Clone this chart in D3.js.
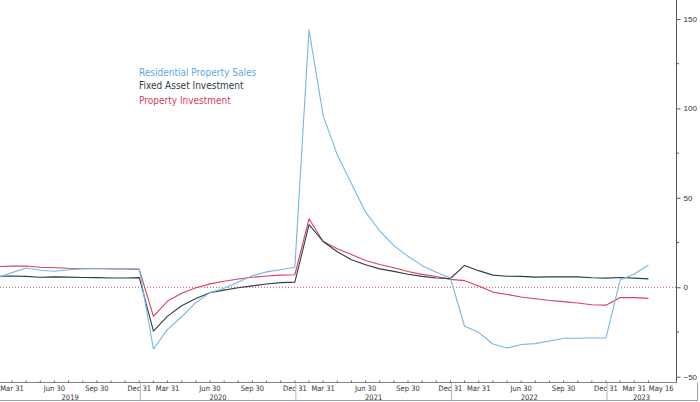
<!DOCTYPE html>
<html>
<head>
<meta charset="utf-8">
<script src="https://cdn.jsdelivr.net/npm/d3@7"></script>
<style>
html,body{margin:0;padding:0;background:#fff;}
svg{display:block;font-family:"DejaVu Sans Condensed","DejaVu Sans","Liberation Sans",sans-serif;}
</style>
</head>
<body>
<svg id="chart" width="700" height="402"></svg>
<script>
// Observations: YTD YoY %, Jan-Feb combined (no January point), Feb 2019 .. Apr 2023
const years = [2019, 2020, 2021, 2022, 2023];
const monthsPerYear = ["Feb","Mar","Apr","May","Jun","Jul","Aug","Sep","Oct","Nov","Dec"];

const residentialSales = [
  5.5, 8.2, 10.8, 9.5, 9.0, 9.8, 10.3, 10.4, 10.5, 10.5, 10.3,
  -34.5, -23.5, -16.5, -8.5, -3.0, -0.6, 3.0, 6.4, 8.6, 9.8, 11.2,
  144.0, 96.0, 74.0, 58.0, 42.0, 31.6, 23.3, 17.3, 12.1, 8.4, 5.2,
  -21.8, -25.2, -31.7, -34.0, -32.0, -31.5, -30.0, -28.5, -28.5, -28.4, -28.3,
  4.1, 7.4, 12.5
];
const fixedAssetInvestment = [
  6.1, 6.3, 6.1, 5.6, 5.8, 5.7, 5.5, 5.4, 5.2, 5.2, 5.4,
  -24.5, -16.1, -10.3, -6.3, -3.1, -1.6, -0.3, 0.8, 1.8, 2.6, 2.9,
  35.0, 25.6, 19.9, 15.4, 12.6, 10.3, 8.9, 7.3, 6.1, 5.2, 4.9,
  12.2, 9.3, 6.8, 6.2, 6.1, 5.7, 5.8, 5.9, 5.8, 5.3, 5.1,
  5.5, 5.1, 4.7
];
const propertyInvestment = [
  11.6, 11.8, 11.9, 11.2, 10.9, 10.6, 10.5, 10.5, 10.3, 10.2, 9.9,
  -16.3, -7.7, -3.3, -0.3, 1.9, 3.4, 4.6, 5.6, 6.3, 6.8, 7.0,
  38.3, 25.6, 21.6, 18.3, 15.0, 12.7, 10.9, 8.8, 7.2, 6.0, 4.4,
  3.7, 0.7, -2.7, -4.0, -5.4, -6.4, -7.4, -8.0, -8.8, -9.8, -10.0,
  -5.7, -5.8, -6.2
];

const seriesNames = ["Residential Property Sales", "Fixed Asset Investment", "Property Investment"];
const seriesColors = ["#72b8e7", "#2f3c48", "#d8405e"];
const legendColors = ["#5aabdf", "#2f3c48", "#d8405e"];

const xTickDates = ["2019-03-31","2019-06-30","2019-09-30","2019-12-31",
                    "2020-03-31","2020-06-30","2020-09-30","2020-12-31",
                    "2021-03-31","2021-06-30","2021-09-30","2021-12-31",
                    "2022-03-31","2022-06-30","2022-09-30","2022-12-31",
                    "2023-03-31","2023-05-16"];
const xTickLabels = ["Mar 31","Jun 30","Sep 30","Dec 31",
                     "Mar 31","Jun 30","Sep 30","Dec 31",
                     "Mar 31","Jun 30","Sep 30","Dec 31",
                     "Mar 31","Jun 30","Sep 30","Dec 31",
                     "Mar 31","May 16"];
const yTicks = [-50, 0, 50, 100, 150];
const yMinorTicks = [-25, 25, 75, 125];

// ---- layout ----
const W = 700, H = 402;
const plotL = 0, plotR = 676, plotT = 0, axisY = 382.5;
const nObs = residentialSales.length;

// index of an observation: 0 = Feb 2019; Jan is not an observation.
// Dates past the last observation run on to the chart's right edge.
const parse = d3.timeParse("%Y-%m-%d");
function dateToIndex(s) {
  const d = parse(s);
  const yy = d.getFullYear(), m = d.getMonth() + 1, day = d.getDate();
  const dim = new Date(yy, m, 0).getDate();
  const idx = (yy - years[0]) * monthsPerYear.length + (m - 3) + day / dim;
  if (idx > nObs - 1) {
    const beyond = idx - (nObs - 1);
    return (nObs - 1) + beyond * 1.75;
  }
  return idx;
}

const x = d3.scaleLinear().domain([1, 43]).range([12, 606]);
const y = d3.scaleLinear().domain([-50, 150]).range([376.7, 19]);

const svg = d3.select("#chart");

svg.append("defs").append("clipPath").attr("id", "clip")
  .append("rect").attr("x", plotL).attr("y", plotT)
  .attr("width", plotR - plotL).attr("height", axisY - plotT);

// zero line
svg.append("line")
  .attr("x1", plotL).attr("x2", plotR)
  .attr("y1", y(0)).attr("y2", y(0))
  .attr("stroke", "#c8303a").attr("stroke-width", 0.9)
  .attr("stroke-dasharray", "1,2");

// lines
const series = [residentialSales, fixedAssetInvestment, propertyInvestment];
const line = d3.line().x((d, i) => x(i)).y(d => y(d));
const g = svg.append("g").attr("clip-path", "url(#clip)");
[2, 1, 0].forEach(k => {
  g.append("path").datum(series[k])
    .attr("d", line)
    .attr("fill", "none")
    .attr("stroke", seriesColors[k])
    .attr("stroke-width", 1.1)
    .attr("stroke-linejoin", "round");
});

// legend
const legendY = [76, 89, 104];
seriesNames.forEach((n, k) => {
  svg.append("text").attr("x", 139).attr("y", legendY[k])
    .attr("font-size", 10).attr("fill", legendColors[k])
    .text(n);
});

// right axis
const axisColor = "#555b60";
svg.append("line").attr("x1", plotR + 0.5).attr("x2", plotR + 0.5)
  .attr("y1", 0).attr("y2", axisY).attr("stroke", axisColor).attr("stroke-width", 1);
const yAxis = d3.axisRight(y).tickValues(yTicks).tickSize(4).tickPadding(3).tickFormat(d3.format("d"));
const ya = svg.append("g").attr("transform", `translate(${plotR + 0.5},0)`).call(yAxis);
ya.select(".domain").remove();
ya.selectAll(".tick line").attr("stroke", axisColor);
ya.selectAll(".tick text").attr("font-size", 8).attr("fill", "#333")
  .attr("font-family", null);
yMinorTicks.forEach(v => {
  svg.append("line").attr("x1", plotR + 0.5).attr("x2", plotR + 3)
    .attr("y1", y(v)).attr("y2", y(v)).attr("stroke", axisColor);
});

// bottom axis
svg.append("line").attr("x1", 0).attr("x2", plotR + 1)
  .attr("y1", axisY).attr("y2", axisY).attr("stroke", "#7d848a").attr("stroke-width", 1);
svg.append("line").attr("x1", 0).attr("x2", W - 2)
  .attr("y1", H - 1.5).attr("y2", H - 1.5).attr("stroke", "#9aa0a6").attr("stroke-width", 1);
svg.append("line").attr("x1", W - 2.5).attr("x2", W - 2.5)
  .attr("y1", axisY).attr("y2", H - 1).attr("stroke", "#9aa0a6").attr("stroke-width", 1);

// monthly minor ticks
d3.range(0, nObs).forEach(i => {
  svg.append("line").attr("x1", x(i)).attr("x2", x(i))
    .attr("y1", axisY - 2).attr("y2", axisY).attr("stroke", "#666");
});

// tick labels
const tickIdx = xTickDates.map(dateToIndex);
svg.append("g").selectAll("text").data(xTickLabels).join("text")
  .attr("x", (d, i) => x(tickIdx[i]))
  .attr("y", 390.5)
  .attr("text-anchor", "middle")
  .attr("font-size", 7.5).attr("fill", "#333")
  .text(d => d);

// year separators and labels
const yearEnds = years.map((yr, k) => k * monthsPerYear.length - 1); // Dec of previous year
years.forEach((yr, k) => {
  const left = Math.max(plotL, x(yearEnds[k]) + 1);
  const right = Math.min(plotR, x(yearEnds[k] + monthsPerYear.length) + 1);
  if (k > 0) {
    svg.append("line").attr("x1", left).attr("x2", left)
      .attr("y1", axisY).attr("y2", H - 1).attr("stroke", "#b0b5ba");
  }
  svg.append("text").attr("x", (left + right) / 2).attr("y", 399.5)
    .attr("text-anchor", "middle").attr("font-size", 7.5).attr("fill", "#333")
    .text(yr);
});
</script>
</body>
</html>
